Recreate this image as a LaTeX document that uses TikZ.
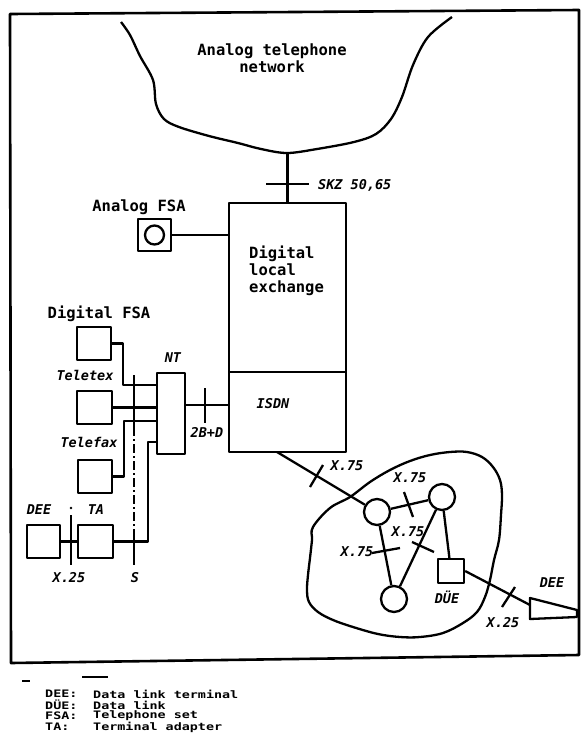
\documentclass[tikz,border=0pt]{standalone}
\usepackage{fontspec}
\newfontfamily\monof{DejaVu Sans Mono}
\newfontfamily\legf{DejaVu Sans Mono}[FakeStretch=1.3]
\tikzset{
  ln/.style={line width=2.3pt},
  term/.style={draw,line width=2.3pt,inner sep=0pt},
  up/.style={font=\monof\bfseries\fontsize{15.5}{17}\selectfont,inner sep=0pt},
  itl/.style={font=\monof\bfseries\itshape\fontsize{13.5}{15}\selectfont,inner sep=0pt},
  leg/.style={font=\legf\bfseries\fontsize{10.3}{11}\selectfont,inner sep=0pt,anchor=west},
  nodecirc/.style={circle,draw,line width=2.3pt,minimum size=26pt,inner sep=0pt},
}
\begin{document}
\begin{tikzpicture}[x=1pt,y=-1pt,line join=round]
\useasboundingbox (0,0) rectangle (584,740);
% frame
\draw[line width=2.6pt] (10,14) -- (579,10) -- (579,655) -- (11,663) -- cycle;
% analog network cloud
\draw[ln] plot[smooth,tension=0.55] coordinates {(121,22) (130,35) (140,56) (153,80) (156,104) (164,119) (179,127) (209,136) (238,143) (261,149) (287,153) (317,149) (354,142) (376,134) (391,119) (402,97) (413,65) (428,37) (452,17)};
\coordinate (cb) at (287.5,153);
\node[up,align=center] (antn) at (272,58) {Analog telephone\\network};
% exchange
\node[term,minimum width=117pt,minimum height=169pt] (dle) at (287.5,287.5) {};
\node[term,minimum width=117pt,minimum height=80pt] (isdn) at (287.5,412) {};
\node[up,align=left,anchor=north west] (dletxt) at (249,246) {Digital\\local\\exchange};
\node[itl] (isdntxt) at (273,404) {ISDN};
\draw[ln] (cb) -- (dle.north);
\draw[ln] (266,184) -- (309,184);
\node[itl,anchor=west] (skz) at (318,185) {SKZ 50,65};
% analog FSA
\node[term,minimum width=33pt,minimum height=32pt] (afsa) at (154.5,235) {};
\node[circle,draw,line width=2.3pt,minimum size=19pt,inner sep=0pt] (afsac) at (afsa.center) {};
\node[up] (afsalbl) at (139,207) {Analog FSA};
\draw[ln] (afsa.east) -- (dle.west |- afsa.east);
% NT
\node[term,minimum width=28pt,minimum height=81pt] (nt) at (171,413.5) {};
\node[itl] (ntlbl) at (173,358) {NT};
% digital FSA
\node[term,minimum width=34pt,minimum height=33pt] (dfsa) at (94,343.5) {};
\node[up] (dfsalbl) at (99,314) {Digital FSA};
\coordinate (c1) at (123,385);
\draw[ln] (dfsa.east) -| (c1) -- (nt.west |- c1);
% teletex
\node[term,minimum width=35pt,minimum height=33pt] (ttx) at (94.5,407.5) {};
\node[itl] (ttxlbl) at (85,375) {Teletex};
\draw[ln] (ttx.east) -- (nt.west |- ttx.east);
% telefax
\node[term,minimum width=34pt,minimum height=33pt] (tfx) at (95,476.5) {};
\node[itl] (tfxlbl) at (89,442) {Telefax};
\coordinate (c2) at (124,421);
\draw[ln] (tfx.east) -| (c2) -- (nt.west |- c2);
% TA and DEE
\node[term,minimum width=35pt,minimum height=33pt] (ta) at (95.5,541.5) {};
\node[itl] (talbl) at (96,510) {TA};
\node[term,minimum width=33pt,minimum height=33pt] (dee) at (43.5,541.5) {};
\node[itl] (deelbl) at (39,510) {DEE};
\coordinate (c3) at (148,442);
\draw[ln] (ta.east) -| (c3) -- (nt.west |- c3);
\draw[ln] (dee.east) -- (ta.west);
\fill (71,508) circle (1.3pt);
\draw[ln] (71,515) -- (71,565);
\node[itl] (x25a) at (69,578) {X.25};
% S bus
\draw[ln] (134,375) -- (134,427);
\draw[ln,dash pattern=on 9pt off 3pt on 2pt off 3pt] (134,427) -- (134,537);
\draw[ln] (134,537) -- (134,565);
\node[itl] (slbl) at (135,578) {S};
% NT to ISDN
\coordinate (c4) at (185,405);
\draw[ln] (nt.east |- c4) -- (isdn.west |- c4);
\draw[ln] (205,388) -- (205,423);
\node[itl] (bd) at (207,432) {2B+D};
% packet network blob
\draw[ln] plot[smooth cycle,tension=0.6] coordinates {(313,527) (330,508) (350,497) (370,482) (390,470) (410,461) (430,455) (450,452) (467,452) (482,457) (493,467) (500,480) (502,495) (501,515) (499,540) (494,560) (490,580) (485,597) (477,612) (463,623) (443,633) (420,637) (400,637) (378,634) (353,627) (333,620) (318,612) (309,602) (307,590) (308,575) (310,558) (312,540)};
\node[nodecirc] (A) at (377,512) {};
\node[nodecirc] (B) at (442,497) {};
\node[nodecirc] (C) at (394,599) {};
\node[term,minimum width=26pt,minimum height=24pt] (due) at (451,571) {};
\node[itl] (duelbl) at (447,597) {DÜE};
\coordinate (c5) at (277,452);
\draw[ln] (c5) -- (A);
\draw[ln] (310,487) -- (323,465);
\node[itl] (x75a) at (347,466) {X.75};
\draw[ln] (A) -- (B);
\draw[ln] (404,492) -- (413,517);
\node[itl] (x75b) at (410,478) {X.75};
\draw[ln] (A) -- (C);
\draw[ln] (372,553) -- (400,548);
\node[itl] (x75c) at (357,552) {X.75};
\draw[ln] (B) -- (C);
\draw[ln] (412,542) -- (434,552);
\node[itl] (x75d) at (408,532) {X.75};
\draw[ln] (B) -- (due);
% DUE to DEE
\coordinate (deeR) at (530,605);
\draw[ln] (due.east) -- (deeR);
\draw[ln] (502,607) -- (515,587);
\node[itl] (x25b) at (503,623) {X.25};
\draw[ln] (530,598) -- (577,610) -- (577,617) -- (530,619) -- cycle;
\node[itl] (deelbl2) at (552,583) {DEE};
% legend
\draw[line width=1.4pt] (22,681) -- (30,681);
\draw[line width=1.4pt] (82,677) -- (108,677);
\node[leg] (l1a) at (45,694) {DEE:};
\node[leg] (l1b) at (93,694) {Data link terminal};
\node[leg] (l2a) at (45,705) {DÜE:};
\node[leg] (l2b) at (93,705) {Data link};
\node[leg] (l3a) at (45,716) {FSA:};
\node[leg] (l3b) at (93,716) {Telephone set};
\node[leg] (l4a) at (45,727) {TA:};
\node[leg] (l4b) at (93,727) {Terminal adapter};
\end{tikzpicture}
\end{document}
